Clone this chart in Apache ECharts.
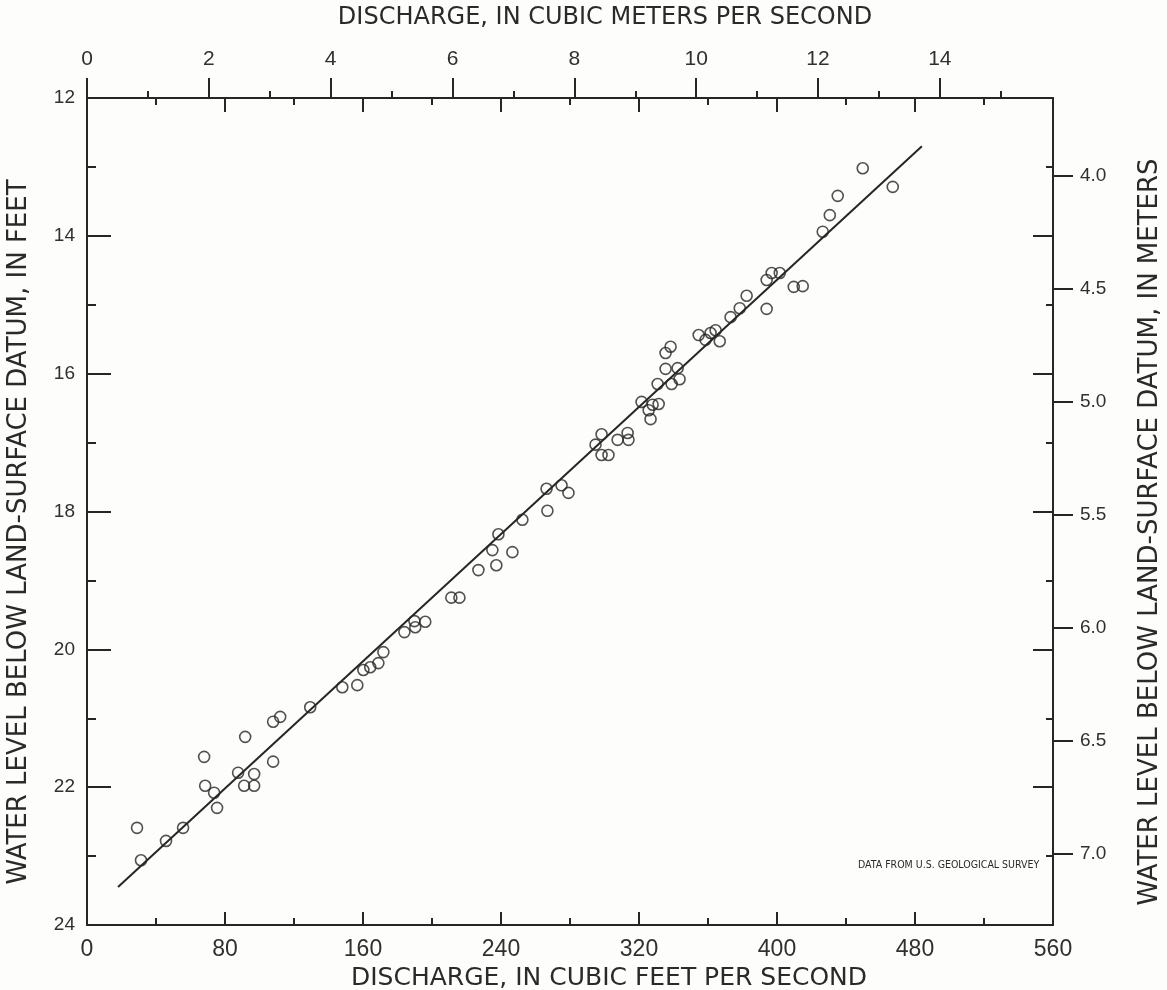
<!DOCTYPE html>
<html>
<head>
<meta charset="utf-8">
<script src="https://cdn.jsdelivr.net/npm/echarts@6/dist/echarts.min.js"></script>
<style>
html,body{margin:0;padding:0;background:#fdfdfc;}
#chart{width:1167px;height:990px;}
</style>
</head>
<body>
<div id="chart"></div>
<script>
// ---- data ----
const dischargeCfs = [29.0,31.3,45.8,55.7,68.5,73.7,75.4,67.9,87.6,91.1,91.7,96.9,96.9,107.9,107.9,112.0,129.4,148.0,156.7,160.2,164.2,168.9,171.8,184.0,189.8,190.3,196.1,211.2,215.9,226.9,235.0,237.3,238.5,246.6,252.4,266.4,266.9,275.1,279.1,294.8,298.3,298.3,302.3,307.6,313.4,313.9,321.5,325.6,326.7,327.9,330.8,331.4,335.4,335.4,338.3,338.9,342.4,343.5,354.6,358.6,361.5,364.4,366.8,373.1,378.4,382.4,394.0,394.0,396.9,401.6,409.7,414.9,426.5,430.6,435.2,449.7,467.1];
const waterLevelFt = [22.59,23.06,22.78,22.59,21.98,22.08,22.30,21.56,21.79,21.98,21.27,21.81,21.98,21.63,21.05,20.98,20.84,20.55,20.52,20.30,20.26,20.20,20.04,19.75,19.59,19.68,19.60,19.25,19.25,18.85,18.56,18.78,18.33,18.59,18.12,17.67,17.99,17.62,17.73,17.03,16.88,17.18,17.18,16.96,16.86,16.96,16.41,16.53,16.66,16.45,16.15,16.44,15.93,15.70,15.61,16.15,15.92,16.08,15.44,15.51,15.41,15.37,15.53,15.18,15.05,14.87,14.64,15.06,14.54,14.54,14.74,14.73,13.94,13.70,13.42,13.02,13.29];
const fitLineCfs = [18, 484];
const fitLineFt = [23.45, 12.70];
const cfsTicks = [0, 80, 160, 240, 320, 400, 480, 560];
const cmsMajorTicks = [0, 2, 4, 6, 8, 10, 12, 14];
const cmsMinorTicks = [1, 3, 5, 7, 9, 11, 13, 15];
const ftTicks = [12, 14, 16, 18, 20, 22, 24];
const meterTicks = [4.0, 4.5, 5.0, 5.5, 6.0, 6.5, 7.0];
const CFS_PER_CMS = 35.3147;
const FT_PER_M = 3.28084;

const ink = '#262626';
const labelFont = '"Liberation Sans", Arial, sans-serif';
const titleFont = '"DejaVu Sans", sans-serif';

const cfsMin = cfsTicks[0], cfsMax = cfsTicks[cfsTicks.length - 1];
const ftMin = ftTicks[0], ftMax = ftTicks[ftTicks.length - 1];

const chart = echarts.init(document.getElementById('chart'), null, {renderer: 'canvas'});
const lineStyle = {color: ink, width: 2};
const noLine = {show: false, onZero: false};

chart.setOption({
  animation: false,
  backgroundColor: '#fdfdfc',
  grid: {left: 87, right: 114, top: 98, bottom: 65, containLabel: false, outerBoundsMode: 'none'},
  xAxis: [
    { // bottom, cubic feet per second
      type: 'value', position: 'bottom', min: cfsMin, max: cfsMax, interval: 80,
      axisLine: {show: true, onZero: false, lineStyle: lineStyle},
      axisTick: {show: true, inside: true, length: 13, lineStyle: lineStyle},
      minorTick: {show: true, splitNumber: 2, length: 7, lineStyle: lineStyle},
      splitLine: {show: false}, minorSplitLine: {show: false},
      axisLabel: {show: true, margin: 13, fontSize: 23, color: '#303030', fontFamily: labelFont}
    },
    { // top border, cfs inward ticks
      type: 'value', position: 'top', min: cfsMin, max: cfsMax, interval: 80,
      axisLine: {show: true, onZero: false, lineStyle: lineStyle},
      axisTick: {show: true, inside: true, length: 14, lineStyle: lineStyle},
      minorTick: {show: true, splitNumber: 2, length: 7, lineStyle: lineStyle},
      splitLine: {show: false}, axisLabel: {show: false}
    },
    { // top, cubic meters per second (major)
      type: 'value', position: 'top', min: 0, max: cfsMax / CFS_PER_CMS, interval: 2,
      axisLine: noLine,
      axisTick: {show: true, inside: false, length: 20, customValues: cmsMajorTicks, lineStyle: lineStyle},
      splitLine: {show: false},
      axisLabel: {show: true, customValues: cmsMajorTicks, margin: 28, fontSize: 21, color: '#303030', fontFamily: labelFont}
    },
    { // top, cubic meters per second (minor)
      type: 'value', position: 'top', min: 0, max: cfsMax / CFS_PER_CMS, interval: 1,
      axisLine: noLine,
      axisTick: {show: true, inside: false, length: 7, customValues: cmsMinorTicks, lineStyle: lineStyle},
      splitLine: {show: false}, axisLabel: {show: false}
    }
  ],
  yAxis: [
    { // left, feet
      type: 'value', position: 'left', inverse: true, min: ftMin, max: ftMax, interval: 2,
      axisLine: {show: true, onZero: false, lineStyle: lineStyle},
      axisTick: {show: true, inside: true, length: 24, lineStyle: lineStyle},
      minorTick: {show: true, splitNumber: 2, length: 9, lineStyle: lineStyle},
      splitLine: {show: false}, minorSplitLine: {show: false},
      axisLabel: {show: true, margin: 12, fontSize: 19, color: '#303030', fontFamily: labelFont}
    },
    { // right border, feet inward ticks
      type: 'value', position: 'right', inverse: true, min: ftMin, max: ftMax, interval: 2,
      axisLine: {show: true, onZero: false, lineStyle: lineStyle},
      axisTick: {show: true, inside: true, length: 20, lineStyle: lineStyle},
      minorTick: {show: true, splitNumber: 2, length: 7, lineStyle: lineStyle},
      splitLine: {show: false}, axisLabel: {show: false}
    },
    { // right, meters
      type: 'value', position: 'right', inverse: true, min: ftMin / FT_PER_M, max: ftMax / FT_PER_M,
      axisLine: noLine,
      axisTick: {show: true, inside: false, length: 20, customValues: meterTicks, lineStyle: lineStyle},
      splitLine: {show: false},
      axisLabel: {show: true, customValues: meterTicks, margin: 27, fontSize: 19, color: '#303030', fontFamily: labelFont,
        formatter: v => Number(v).toFixed(1)}
    }
  ],
  graphic: [
    {type: 'text', x: 605, y: 18, style: {text: 'DISCHARGE, IN CUBIC METERS PER SECOND', font: '24px ' + titleFont, fill: '#2a2a2a', align: 'center', verticalAlign: 'middle'}},
    {type: 'text', x: 609, y: 978, style: {text: 'DISCHARGE, IN CUBIC FEET PER SECOND', font: '25px ' + titleFont, fill: '#2a2a2a', align: 'center', verticalAlign: 'middle'}},
    {type: 'text', x: 19, y: 532, rotation: Math.PI / 2, style: {text: 'WATER LEVEL BELOW LAND-SURFACE DATUM, IN FEET', font: '26px ' + titleFont, fill: '#2a2a2a', align: 'center', verticalAlign: 'middle'}},
    {type: 'text', x: 1150, y: 532, rotation: Math.PI / 2, style: {text: 'WATER LEVEL BELOW LAND-SURFACE DATUM, IN METERS', font: '26px ' + titleFont, fill: '#2a2a2a', align: 'center', verticalAlign: 'middle'}},
    {type: 'text', x: 858, y: 860, style: {text: 'DATA FROM U.S. GEOLOGICAL SURVEY', font: '10.5px "DejaVu Sans Condensed", "DejaVu Sans", sans-serif', fill: '#2a2a2a'}}
  ],
  series: [
    {
      type: 'line', xAxisIndex: 0, yAxisIndex: 0, silent: true, symbol: 'none',
      lineStyle: {color: ink, width: 2},
      data: fitLineCfs.map((c, i) => [c, fitLineFt[i]])
    },
    {
      type: 'scatter', xAxisIndex: 0, yAxisIndex: 0, symbol: 'circle', symbolSize: 11,
      itemStyle: {color: 'rgba(255,255,255,0)', borderColor: ink, borderWidth: 1.6},
      data: dischargeCfs.map((c, i) => [c, waterLevelFt[i]])
    }
  ]
});
</script>
</body>
</html>
